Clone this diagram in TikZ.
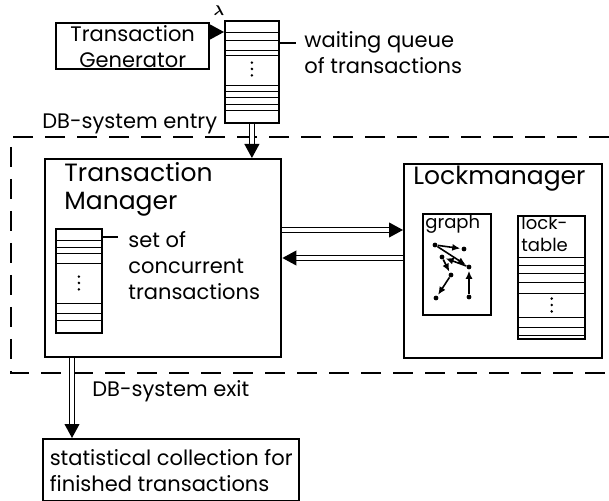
\documentclass[tikz,border=0pt]{standalone}
\usepackage{amsmath}
\usepackage{fontspec}
\setmainfont{Poppins}
\usetikzlibrary{arrows.meta}
\usetikzlibrary{calc}
\usetikzlibrary{decorations.markings}
\newcommand{\bigtext}{\fontsize{12.5}{14}\selectfont}
\newcommand{\smalltext}{\fontsize{10.5}{13}\selectfont}
\newcommand{\tinytext}{\fontsize{9}{11}\selectfont}
% horizontal rows of a stack, given as offsets (px) from its top edge
\newcommand{\rows}[2]{\foreach \d in {#2} \draw ([yshift=-\d*0.5pt]#1.north west) -- ([yshift=-\d*0.5pt]#1.north east);}
% three dots in the gap of a stack
\newcommand{\gapdots}[2]{\foreach \k in {-1,0,1} \fill ([yshift=-#2*0.5pt-\k*3.2pt]#1.north) circle (0.7pt);}
\tikzset{
    common/.style={draw, line width=1.2pt, rectangle, anchor=north west, inner sep=0pt},
    box/.style={common, align=center, font=\smalltext},
    rowstack/.style={common, line width=0.9pt, minimum width=23pt},
    remark/.style={anchor=west, inner sep=0pt, align=left, font=\smalltext},
    heading/.style={remark, font=\bigtext},
    flow/.style={double, double distance=1.6pt, line width=0.8pt, shorten >=6pt,
        postaction={decorate},
        decoration={markings, mark=at position 1 with {\fill (0,0) -- (-7pt,3.8pt) -- (-7pt,-3.8pt) -- cycle;}}},
    sysframe/.style={dash pattern=on 10pt off 6pt, line width=1.1pt},
    vertex/.style={circle, fill, inner sep=0pt, minimum size=2.4pt},
    dep/.style={-{Latex[length=4pt, width=3.5pt]}, line width=0.8pt, shorten >=0.5pt}
}

\begin{document}
\begin{tikzpicture}[x=0.5pt, y=-0.5pt]
    \useasboundingbox (0,0) rectangle (609,501);

    % source and waiting queue
    \node[box, minimum width=76.5pt, minimum height=23pt] (gen) at (55,22) {Transaction\\Generator};
    \node[rowstack, minimum width=27pt, minimum height=51pt] (queue) at (224,20) {};
    \rows{queue}{12,20,30,35,65,71,77,84,90}
    \gapdots{queue}{49}
    \node[inner sep=0pt, font=\scriptsize] (rate) at (219,11) {$\boldsymbol\lambda$};
    \coordinate (queuelead) at (296,43);
    \draw[line width=0.9pt] ([yshift=-11.5pt]queue.north east) -- (queuelead);
    \node[remark] (queuetext) at (304,53) {waiting queue\\of transactions};

    % system boundary
    \draw[sysframe] (609,137) -- (11,137) -- (11,373) -- (609,373);
    \node[remark] (entry) at (42,124) {DB-system entry};
    \node[remark] (exit) at (92,391) {DB-system exit};

    % transaction manager
    \node[common, minimum width=118pt, minimum height=99pt] (tm) at (44,158) {};
    \node[heading] (tmtitle) at (64,189) {Transaction\\Manager};
    \node[rowstack, minimum height=52pt] (tmset) at (55,228) {};
    \rows{tmset}{12,19,25,35,75,85,92}
    \gapdots{tmset}{55}
    \coordinate (setlead) at (118,237);
    \draw[line width=0.9pt] ([yshift=-4.5pt]tmset.north east) -- (setlead);
    \node[remark] (settext) at (128,266) {set of\\concurrent\\transactions};

    % lock manager
    \node[common, minimum width=99pt, minimum height=97pt] (lm) at (403,163) {};
    \node[heading] (lmtitle) at (413,179) {Lockmanager};
    \node[common, minimum width=34pt, minimum height=50.5pt] (graph) at (422,213) {};
    \node[remark, font=\tinytext] (graphtext) at (425,224) {graph};
    \node[common, minimum width=33.5pt, minimum height=61.5pt] (locks) at (517,215) {};
    \node[remark, font=\tinytext] (lockstext) at (521,234) {lock-\\table};
    \rows{locks}{42,50,58,67,78,102,112,120}
    \gapdots{locks}{90}

    % waits-for graph
    \node[vertex] (va) at (435,245) {};
    \node[vertex] (vb) at (464,249) {};
    \node[vertex] (vc) at (469,267) {};
    \node[vertex] (vd) at (442,257) {};
    \node[vertex] (ve) at (451,275) {};
    \node[vertex] (vf) at (436,298) {};
    \node[vertex] (vg) at (469,297) {};
    \draw[dep] (va) -- (vb);
    \draw[dep] (va) -- (vc);
    \draw[dep] (vc) -- (vd);
    \draw[dep] (vd) -- (ve);
    \draw[dep] (ve) -- (vf);
    \draw[dep] (vg) -- (vc);

    % flows between the parts
    \draw[flow] ([yshift=-5pt]gen.north east) -- ([yshift=-6pt]queue.north west);
    \draw[flow] (queue.south) -- (queue.south |- tm.north);
    \coordinate (req) at ([yshift=-36pt]tm.north east);
    \coordinate (rep) at ([yshift=-50pt]tm.north east);
    \draw[flow] (req) -- (req -| lm.west);
    \draw[flow] (rep -| lm.west) -- (rep);

    % statistics
    \node[box, align=left, minimum width=128pt, minimum height=31pt] (stats) at (42,438) {statistical collection for\\finished transactions};
    \coordinate (out) at ([xshift=14pt]tm.south west);
    \draw[flow] (out) -- (out |- stats.north);
\end{tikzpicture}
\end{document}
